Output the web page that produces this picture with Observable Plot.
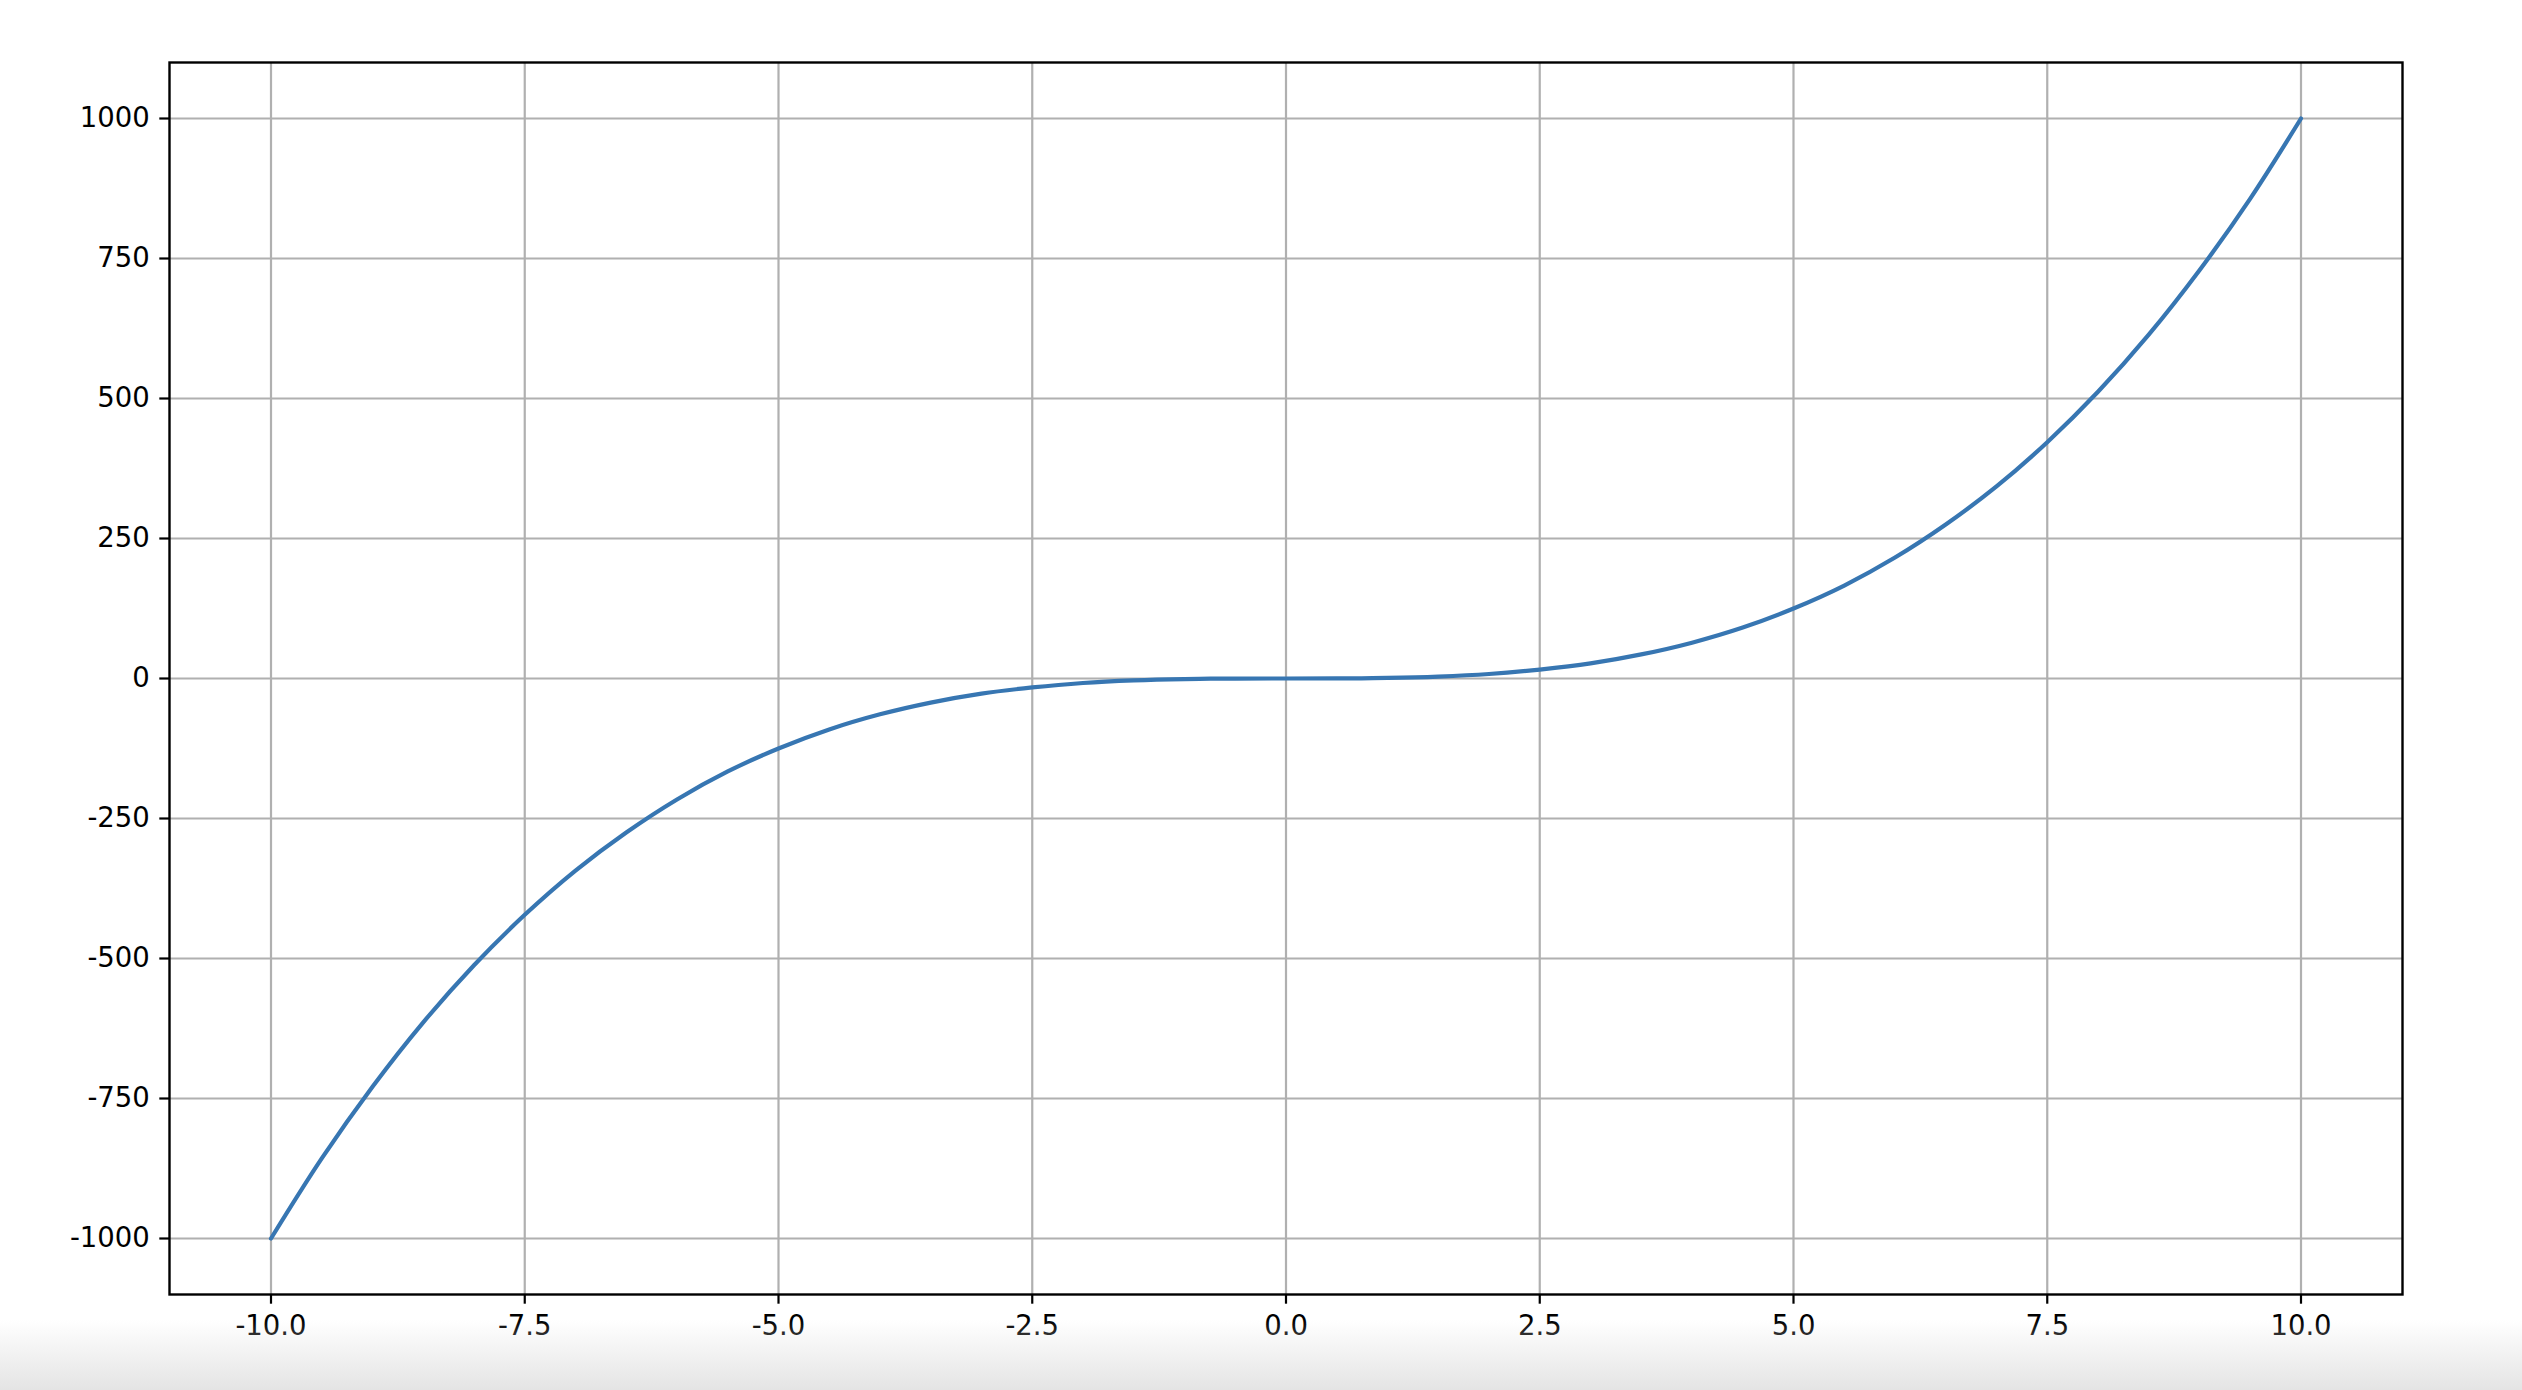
<!DOCTYPE html>
<html>
<head>
<meta charset="utf-8">
<script src="https://cdn.jsdelivr.net/npm/d3@7"></script>
<script src="https://cdn.jsdelivr.net/npm/@observablehq/plot@0.6"></script>
<style>
  html, body { margin: 0; padding: 0; background: #fff; }
  #wrap { position: relative; width: 2522px; height: 1390px; overflow: hidden; }
  #shade { position: absolute; left: 0; right: 0; bottom: 0; height: 70px;
           background: linear-gradient(to bottom, rgba(255,255,255,0), #e4e4e4); pointer-events: none; }
</style>
</head>
<body>
<div id="wrap"><div id="shade"></div></div>
<script>
// Values
const xValues = [-10, -9.5, -9, -8.5, -8, -7.5, -7, -6.5, -6, -5.5, -5, -4.5, -4, -3.5, -3, -2.5, -2, -1.5, -1, -0.5,
                 0, 0.5, 1, 1.5, 2, 2.5, 3, 3.5, 4, 4.5, 5, 5.5, 6, 6.5, 7, 7.5, 8, 8.5, 9, 9.5, 10];
const yValues = [-1000, -857, -729, -614, -512, -422, -343, -275, -216, -166, -125, -91, -64, -43, -27, -16, -8, -3.4, -1, -0.1,
                 0, 0.1, 1, 3.4, 8, 16, 27, 43, 64, 91, 125, 166, 216, 275, 343, 422, 512, 614, 729, 857, 1000];
const xTicks = [-10, -7.5, -5, -2.5, 0, 2.5, 5, 7.5, 10];
const xTickLabels = ["-10.0", "-7.5", "-5.0", "-2.5", "0.0", "2.5", "5.0", "7.5", "10.0"];
const yTicks = [-1000, -750, -500, -250, 0, 250, 500, 750, 1000];
const yTickLabels = ["-1000", "-750", "-500", "-250", "0", "250", "500", "750", "1000"];

const data = xValues.map((x, i) => ({x, y: yValues[i]}));

const chart = Plot.plot({
  width: 2522,
  height: 1390,
  marginLeft: 169,
  marginRight: 120,
  marginTop: 62,
  marginBottom: 96,
  style: { fontFamily: "'DejaVu Sans', sans-serif", fontSize: "27.5px", color: "black", background: "transparent", overflow: "visible" },
  x: { domain: [-11, 11] },
  y: { domain: [-1100, 1100] },
  marks: [
    Plot.gridX(xTicks, { stroke: "#b0b0b0", strokeOpacity: 1, strokeWidth: 2.2 }),
    Plot.gridY(yTicks, { stroke: "#b0b0b0", strokeOpacity: 1, strokeWidth: 2.2 }),
    Plot.line(data, { x: "x", y: "y", stroke: "#3776b2", strokeWidth: 4.2, curve: "catmull-rom" }),
    Plot.frame({ stroke: "black", strokeWidth: 2.4 }),
    Plot.axisX(xTicks, { tickSize: 9.7, tickPadding: 11, strokeWidth: 2.2, stroke: "black", label: null,
      tickFormat: (d) => xTickLabels[xTicks.indexOf(d)] }),
    Plot.axisY(yTicks, { tickSize: 9.7, tickPadding: 10, strokeWidth: 2.2, stroke: "black", label: null,
      tickFormat: (d) => yTickLabels[yTicks.indexOf(d)] })
  ]
});
document.getElementById("wrap").prepend(chart);
</script>
</body>
</html>
